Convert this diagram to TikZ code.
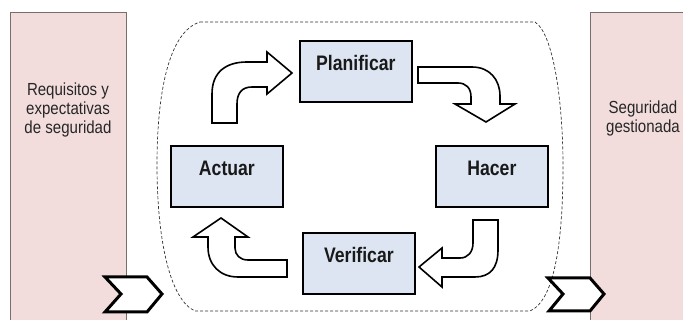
\documentclass[tikz,border=0pt]{standalone}
\usepackage{fontspec}
\newfontfamily\regf{Liberation Sans}[FakeStretch=0.86]
\newfontfamily\labf{Liberation Sans}[FakeStretch=0.84]
\definecolor{pinkfill}{RGB}{242,221,220}
\definecolor{pinkline}{RGB}{120,110,110}
\definecolor{boxfill}{RGB}{220,229,241}
\tikzset{
  sidebox/.style={draw=pinkline, line width=0.8pt, fill=pinkfill, anchor=north west, inner sep=0pt},
  sidetext/.style={font=\regf\fontsize{17.5}{19}\selectfont, align=center, text=black!85},
  stagebox/.style={draw=black, line width=1.8pt, fill=boxfill, anchor=north west, inner sep=0pt,
    minimum width=112pt, minimum height=61pt, text height=30pt, text depth=31pt,
    font=\labf\bfseries\fontsize{21}{24}\selectfont, text=black!90},
  blockarrow/.style={draw=black, line width=1.6pt, fill=white, line join=miter},
  chev/.style={draw=black, line width=3pt, fill=white, line join=miter},
  hull/.style={draw=black!80, line width=0.7pt, dash pattern=on 3pt off 2pt}
}
\begin{document}
\begin{tikzpicture}[x=1pt,y=-1pt]
\useasboundingbox (0,0) rectangle (683,320);
% side panels
\node[sidebox, minimum width=116pt, minimum height=320pt] (req) at (10,12) {};
\node[sidebox, minimum width=110pt, minimum height=320pt] (out) at (590,12) {};
\node[sidetext, anchor=base] (reqtext) at (68,133.3) {Requisitos y\\expectativas\\de seguridad};
\node[sidetext, anchor=base] (outtext) at (643,132.7) {Seguridad\\gestionada};
% dashed hull
\draw[hull] (200,22) -- (535,22)
  .. controls (555,35) and (563,110) .. (563,165)
  .. controls (563,235) and (556,300) .. (530,311)
  -- (195,311)
  .. controls (170,300) and (157,240) .. (157,165)
  .. controls (157,95) and (168,32) .. (200,22);
% chevrons
\draw[chev] (105,277) -- (147,277) -- (162,294) -- (147,312) -- (105,312) -- (121,294) -- cycle;
\draw[chev] (548,278) -- (590,278) -- (604,294) -- (590,311) -- (549,311) -- (563,294) -- cycle;
% stages
\node[stagebox] (plan) at (299,40) {Planificar};
\node[stagebox] (act) at (170,145) {Actuar};
\node[stagebox] (do) at (435,145) {Hacer};
\node[stagebox] (chk) at (302,232) {Verificar};
% block arrows
\draw[blockarrow] (212,123) -- (212,94) .. controls (212,72) and (226,62) .. (247,62)
  -- (267,62) -- (267,52) -- (292,73) -- (267,94) -- (267,87) -- (252,87)
  .. controls (242,87) and (237,93) .. (237,104) -- (237,123) -- cycle;
\draw[blockarrow] (418,67) -- (472,67) .. controls (490,67) and (500,80) .. (500,96)
  -- (500,104) -- (515,104) -- (486,122) -- (455,104) -- (471,104) -- (471,97)
  .. controls (471,88) and (466,83) .. (458,83) -- (418,83) -- cycle;
\draw[blockarrow] (473,220) -- (498,220) -- (498,250) .. controls (498,268) and (490,277) .. (475,277)
  -- (442,277) -- (442,287) -- (419,267) -- (442,248) -- (442,258) -- (460,258)
  .. controls (468,258) and (473,252) .. (473,243) -- cycle;
\draw[blockarrow] (287,260) -- (287,277) -- (238,277) .. controls (220,277) and (208,265) .. (208,247)
  -- (208,237) -- (193,237) -- (221,218) -- (248,237) -- (235,237) -- (235,248)
  .. controls (235,255) and (240,260) .. (248,260) -- cycle;
\end{tikzpicture}
\end{document}
